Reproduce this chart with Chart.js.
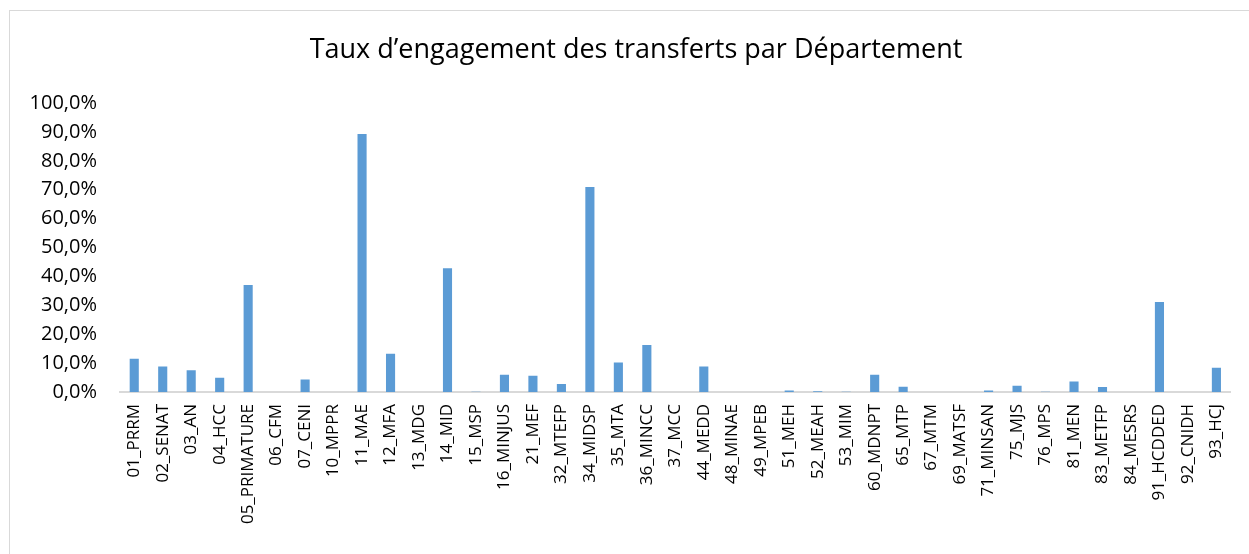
<!DOCTYPE html>
<html>
<head>
<meta charset="utf-8">
<script src="https://cdn.jsdelivr.net/npm/chart.js@4/dist/chart.umd.min.js"></script>
<style>
  html, body { margin: 0; padding: 0; background: #fff; overflow: hidden; }
  #frame {
    position: absolute; left: 9px; top: 10px; width: 1300px; height: 600px;
    border: 1.5px solid #d9d9d9; box-sizing: border-box;
  }
  #wrap { position: absolute; left: 0; top: 0; width: 1249px; height: 554px; }
</style>
</head>
<body>
<div id="frame"></div>
<div id="wrap"><canvas id="barChart" width="1249" height="554"></canvas></div>
<script>
const departements = [
  "01_PRRM", "02_SENAT", "03_AN", "04_HCC", "05_PRIMATURE", "06_CFM", "07_CENI",
  "10_MPPR", "11_MAE", "12_MFA", "13_MDG", "14_MID", "15_MSP", "16_MINJUS",
  "21_MEF", "32_MTEFP", "34_MIDSP", "35_MTA", "36_MINCC", "37_MCC", "44_MEDD",
  "48_MINAE", "49_MPEB", "51_MEH", "52_MEAH", "53_MIM", "60_MDNPT", "65_MTP",
  "67_MTM", "69_MATSF", "71_MINSAN", "75_MJS", "76_MPS", "81_MEN", "83_METFP",
  "84_MESRS", "91_HCDDED", "92_CNIDH", "93_HCJ"
];

// taux d'engagement en %
const tauxEngagement = [
  11.5, 8.8, 7.5, 4.9, 37.0, 0, 4.3,
  0, 89.3, 13.2, 0, 42.8, 0.1, 6.0,
  5.6, 2.8, 70.9, 10.2, 16.3, 0, 8.8,
  0, 0, 0.5, 0.3, 0.1, 6.0, 1.8,
  0, 0, 0.5, 2.2, 0.1, 3.6, 1.7,
  0, 31.1, 0, 8.4
];

const yTicks = [0, 10, 20, 30, 40, 50, 60, 70, 80, 90, 100];

const titre = "Taux d\u2019engagement des transferts par D\u00e9partement";

const police = "'Open Sans', 'DejaVu Sans', sans-serif";

function formatPct(v) {
  return v.toFixed(1).replace(".", ",") + "%";
}

// titre centré sur le cadre du graphique (et non sur la zone du canvas)
const titrePlugin = {
  id: "titreCadre",
  afterDraw(chart) {
    const ctx = chart.ctx;
    ctx.save();
    ctx.fillStyle = "#000";
    ctx.font = "27px " + police;
    ctx.textAlign = "center";
    ctx.textBaseline = "middle";
    ctx.fillText(titre, 636, 50);
    ctx.restore();
  },
};

const canvas = document.getElementById("barChart");

new Chart(canvas, {
  type: "bar",
  data: {
    labels: departements,
    datasets: [
      {
        data: tauxEngagement,
        backgroundColor: "#5b9bd5",
        barPercentage: 0.32,
        categoryPercentage: 1,
      },
    ],
  },
  options: {
    responsive: false,
    animation: false,
    layout: {
      padding: { left: 0, right: 15, top: 103, bottom: 0 },
    },
    plugins: {
      legend: { display: false },
      tooltip: { enabled: false },
      title: { display: false },
    },
    scales: {
      x: {
        grid: { display: false, drawTicks: false },
        border: { display: true, color: "#d9d9d9", width: 2 },
        ticks: {
          color: "#000",
          font: { family: police, size: 17 },
          minRotation: 90,
          maxRotation: 90,
          autoSkip: false,
          padding: 12,
        },
        afterFit: (scale) => {
          scale.height = 162;
        },
      },
      y: {
        min: 0,
        max: 100,
        grid: { display: false, drawTicks: false },
        border: { display: false },
        afterBuildTicks: (scale) => {
          scale.ticks = yTicks.map((v) => ({ value: v }));
        },
        ticks: {
          color: "#000",
          font: { family: police, size: 20 },
          padding: 23,
          callback: (v) => formatPct(v),
        },
        afterFit: (scale) => {
          scale.width = 120;
        },
      },
    },
  },
  plugins: [titrePlugin],
});
</script>
</body>
</html>
